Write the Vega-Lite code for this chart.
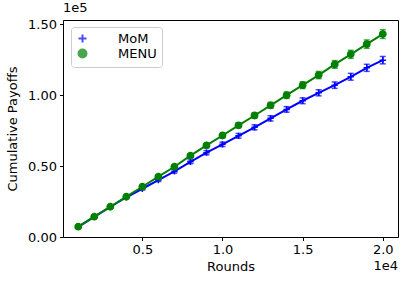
{
  "$schema": "https://vega.github.io/schema/vega-lite/v6.json",
  "width": 335,
  "height": 217,
  "autosize": {"type": "none"},
  "padding": {"left": 63, "top": 20, "right": 11, "bottom": 46},
  "background": "white",
  "config": {
    "font": "DejaVu Sans",
    "view": {"stroke": "#000000", "strokeWidth": 1},
    "axis": {
      "grid": false,
      "domain": false,
      "tickColor": "#000000",
      "tickSize": 3.5,
      "tickWidth": 1,
      "labelFontSize": 13,
      "labelColor": "#000000",
      "labelFont": "DejaVu Sans",
      "titleFont": "DejaVu Sans",
      "titleFontSize": 13,
      "titleFontWeight": "normal",
      "titleColor": "#000000"
    },
    "title": {"font": "DejaVu Sans", "fontSize": 13, "fontWeight": "normal", "color": "#000000"}
  },
  "title": {"text": "1e5", "anchor": "start", "frame": "group", "offset": 3},
  "datasets": {
    "runs": [
      {"series": "MoM", "rounds": 1000, "payoff": 7200, "err": 300},
      {"series": "MoM", "rounds": 2000, "payoff": 14200, "err": 450},
      {"series": "MoM", "rounds": 3000, "payoff": 21200, "err": 600},
      {"series": "MoM", "rounds": 4000, "payoff": 28000, "err": 750},
      {"series": "MoM", "rounds": 5000, "payoff": 34000, "err": 900},
      {"series": "MoM", "rounds": 6000, "payoff": 40100, "err": 1000},
      {"series": "MoM", "rounds": 7000, "payoff": 46200, "err": 1150},
      {"series": "MoM", "rounds": 8000, "payoff": 53000, "err": 1300},
      {"series": "MoM", "rounds": 9000, "payoff": 59400, "err": 1450},
      {"series": "MoM", "rounds": 10000, "payoff": 65300, "err": 1550},
      {"series": "MoM", "rounds": 11000, "payoff": 71300, "err": 1650},
      {"series": "MoM", "rounds": 12000, "payoff": 77300, "err": 1750},
      {"series": "MoM", "rounds": 13000, "payoff": 83600, "err": 1850},
      {"series": "MoM", "rounds": 14000, "payoff": 89900, "err": 1950},
      {"series": "MoM", "rounds": 15000, "payoff": 96000, "err": 2050},
      {"series": "MoM", "rounds": 16000, "payoff": 101600, "err": 2150},
      {"series": "MoM", "rounds": 17000, "payoff": 107000, "err": 2250},
      {"series": "MoM", "rounds": 18000, "payoff": 112900, "err": 2400},
      {"series": "MoM", "rounds": 19000, "payoff": 119200, "err": 2500},
      {"series": "MoM", "rounds": 20000, "payoff": 124600, "err": 2600},
      {"series": "MENU", "rounds": 1000, "payoff": 7250, "err": 300},
      {"series": "MENU", "rounds": 2000, "payoff": 14300, "err": 450},
      {"series": "MENU", "rounds": 3000, "payoff": 21300, "err": 600},
      {"series": "MENU", "rounds": 4000, "payoff": 28400, "err": 750},
      {"series": "MENU", "rounds": 5000, "payoff": 35400, "err": 900},
      {"series": "MENU", "rounds": 6000, "payoff": 42500, "err": 1050},
      {"series": "MENU", "rounds": 7000, "payoff": 49500, "err": 1200},
      {"series": "MENU", "rounds": 8000, "payoff": 57300, "err": 1350},
      {"series": "MENU", "rounds": 9000, "payoff": 64500, "err": 1500},
      {"series": "MENU", "rounds": 10000, "payoff": 71500, "err": 1650},
      {"series": "MENU", "rounds": 11000, "payoff": 78700, "err": 1800},
      {"series": "MENU", "rounds": 12000, "payoff": 85600, "err": 1950},
      {"series": "MENU", "rounds": 13000, "payoff": 92800, "err": 2100},
      {"series": "MENU", "rounds": 14000, "payoff": 99900, "err": 2250},
      {"series": "MENU", "rounds": 15000, "payoff": 107000, "err": 2400},
      {"series": "MENU", "rounds": 16000, "payoff": 114100, "err": 2550},
      {"series": "MENU", "rounds": 17000, "payoff": 121600, "err": 2700},
      {"series": "MENU", "rounds": 18000, "payoff": 128700, "err": 2850},
      {"series": "MENU", "rounds": 19000, "payoff": 135900, "err": 2950},
      {"series": "MENU", "rounds": 20000, "payoff": 143000, "err": 3100}
    ],
    "offsets": [{"label": "1e4"}]
  },
  "layer": [
    {
      "data": {"name": "runs"},
      "mark": {"type": "line", "strokeWidth": 2},
      "encoding": {
        "x": {
          "field": "rounds",
          "type": "quantitative",
          "title": "Rounds",
          "scale": {"domain": [50, 20950], "nice": false, "zero": false},
          "axis": {
            "values": [5000, 10000, 15000, 20000],
            "labelExpr": "format(datum.value / 10000, '.1f')",
            "labelPadding": 3,
            "titlePadding": 4
          }
        },
        "y": {
          "field": "payoff",
          "type": "quantitative",
          "title": "Cumulative Payoffs",
          "scale": {"domain": [0, 152900], "nice": false, "zero": false},
          "axis": {
            "values": [0, 25000, 50000, 75000, 100000, 125000, 150000],
            "labelExpr": "format(datum.value / 100000, '.2f')",
            "labelPadding": 3,
            "titlePadding": 8
          }
        },
        "color": {
          "field": "series",
          "type": "nominal",
          "scale": {"domain": ["MoM", "MENU"], "range": ["#0000ff", "#008000"]},
          "legend": {
            "title": null, "orient": "none", "legendX": 8, "legendY": 7, "padding": 5,
            "strokeColor": "#cccccc", "fillColor": "rgba(255,255,255,0.8)", "cornerRadius": 3,
            "labelFontSize": 13, "labelColor": "#000000", "labelFont": "DejaVu Sans",
            "symbolSize": 64, "symbolStrokeWidth": 2, "labelOffset": 29, "rowPadding": -3
          }
        }
      }
    },
    {
      "data": {"name": "runs"},
      "mark": {"type": "errorbar", "ticks": {"size": 6, "thickness": 1.5}, "rule": {"strokeWidth": 1.5}},
      "encoding": {
        "x": {"field": "rounds", "type": "quantitative", "title": "Rounds"},
        "y": {"field": "payoff", "type": "quantitative", "title": "Cumulative Payoffs"},
        "yError": {"field": "err"},
        "color": {
          "field": "series",
          "type": "nominal",
          "legend": {
            "title": null, "orient": "none", "legendX": 8, "legendY": 7, "padding": 5,
            "strokeColor": "#cccccc", "fillColor": "rgba(255,255,255,0.8)", "cornerRadius": 3,
            "labelFontSize": 13, "labelColor": "#000000", "labelFont": "DejaVu Sans",
            "symbolSize": 64, "symbolStrokeWidth": 2, "labelOffset": 29, "rowPadding": -3
          }
        }
      }
    },
    {
      "data": {"name": "runs"},
      "mark": {"type": "point", "filled": true, "opacity": 1, "strokeWidth": 1.5, "size": 40},
      "encoding": {
        "x": {"field": "rounds", "type": "quantitative", "title": "Rounds"},
        "y": {"field": "payoff", "type": "quantitative", "title": "Cumulative Payoffs"},
        "color": {
          "field": "series",
          "type": "nominal",
          "legend": {
            "title": null, "orient": "none", "legendX": 8, "legendY": 7, "padding": 5,
            "strokeColor": "#cccccc", "fillColor": "rgba(255,255,255,0.8)", "cornerRadius": 3,
            "labelFontSize": 13, "labelColor": "#000000", "labelFont": "DejaVu Sans",
            "symbolSize": 64, "symbolStrokeWidth": 2, "labelOffset": 29, "rowPadding": -3
          }
        },
        "shape": {
          "field": "series",
          "type": "nominal",
          "scale": {"domain": ["MoM", "MENU"], "range": ["M-1,0L1,0M0,-1L0,1", "circle"]},
          "legend": null
        },
        "stroke": {
          "field": "series",
          "type": "nominal",
          "scale": {"domain": ["MoM", "MENU"], "range": ["#0000ff", "#008000"]},
          "legend": null
        }
      }
    },
    {
      "data": {"name": "offsets"},
      "mark": {"type": "text", "align": "right", "baseline": "alphabetic", "fontSize": 13, "font": "DejaVu Sans", "color": "#000000"},
      "encoding": {
        "x": {"datum": 20950, "type": "quantitative"},
        "y": {"datum": -23500, "type": "quantitative"},
        "text": {"field": "label", "type": "nominal"}
      }
    }
  ]
}
